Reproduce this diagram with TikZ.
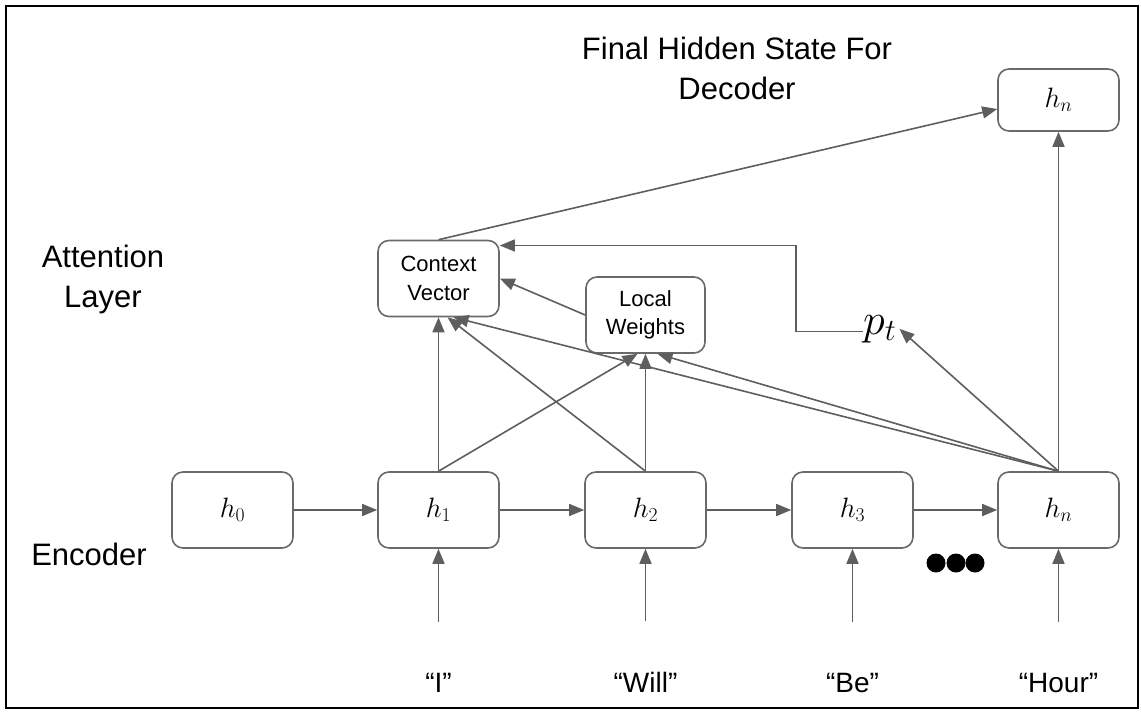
\RequirePackage{fix-cm}
\documentclass[tikz,border=0pt]{standalone}
\usepackage{fontspec}
\setmainfont{Liberation Sans}
\usetikzlibrary{arrows.meta}

\definecolor{linegray}{HTML}{5E5E5E}
\definecolor{boxgray}{HTML}{6A6A6A}

\tikzset{
  statebox/.style={draw=boxgray, line width=1.6pt, rounded corners=11pt,
    minimum width=121pt, minimum height=76pt, inner sep=0pt,
    font=\fontsize{28}{32}\selectfont},
  textbox/.style={statebox, align=center, font=\fontsize{22}{28.5}\selectfont},
  label/.style={inner sep=0pt, align=center, font=\fontsize{31}{40}\selectfont},
  word/.style={inner sep=0pt, anchor=base, font=\fontsize{28}{32}\selectfont},
  arr/.style={draw=linegray, line width=1.6pt, -{Triangle[length=15pt,width=12pt]}}
}

\begin{document}
\begin{tikzpicture}[x=1pt,y=-1pt]
    \useasboundingbox (0,0) rectangle (1141,712);
    \draw[black, line width=2.5pt] (6,6) rectangle (1138,708);

    % side and top labels
    \node[label, anchor=north] (title) at (737,37) {Final Hidden State For\\Decoder};
    \node[label, anchor=north] (attn) at (103,245) {Attention\\Layer};
    \node[label, anchor=base] (enc) at (89,565) {Encoder};

    % encoder states
    \foreach \name/\x/\lab in {h0/232.5/h_0, h1/438.5/h_1, h2/645.5/h_2, h3/852.5/h_3, hn/1058.5/h_n}
        \node[statebox] (\name) at (\x,510) {$\lab$};

    % input words
    \foreach \name/\x/\w in {w1/438.5/“I”, w2/645.5/“Will”, w3/852.5/“Be”, wn/1058.5/“Hour”}
        \node[word] (\name) at (\x,692) {\w};

    % dots between h3 and hn
    \foreach \x in {936,956,975}
        \fill[black] (\x,563) circle (9.5pt);

    % attention layer
    \node[textbox] (cv) at (438.5,278.5) {Context\\Vector};
    \node[textbox, minimum width=119pt] (lw) at (645.5,315) {Local\\Weights};
    \node[inner sep=0pt, anchor=base west, font=\fontsize{44}{50}\selectfont] (pt) at (863,334) {$p_t$};

    % final state for decoder
    \node[statebox, minimum height=62pt] (top) at (1058.5,100) {$h_n$};

    % recurrent and input arrows
    \foreach \a/\b in {h0/h1, h1/h2, h2/h3, h3/hn}
        \draw[arr] (\a) -- (\b);
    \foreach \i in {1,2,3,n}
        \draw[arr] ([yshift=51pt]w\i.north) -- (h\i.south);

    % attention arrows
    \draw[arr] (h1.north) -- (cv.south);
    \draw[arr] (h1.north) -- ([xshift=-8pt]lw.south);
    \draw[arr] (h2.north) -- ([xshift=9pt]cv.south);
    \draw[arr] (h2.north) -- (lw.south);
    \draw[arr] (hn.north) -- ([xshift=15pt]cv.south);
    \draw[arr] (hn.north) -- ([xshift=12pt]lw.south);
    \draw[arr] (hn.north) -- ([xshift=3pt]pt.east);
    \draw[arr] (hn.north) -- (top.south);
    \draw[arr] (lw.west) -- (cv.east);
    \draw[arr] (pt.mid west) -- ++(-67,0) |- ([yshift=33pt]cv.east);
    \draw[arr] (cv.north) -- ([yshift=-9pt]top.west);

\end{tikzpicture}
\end{document}
